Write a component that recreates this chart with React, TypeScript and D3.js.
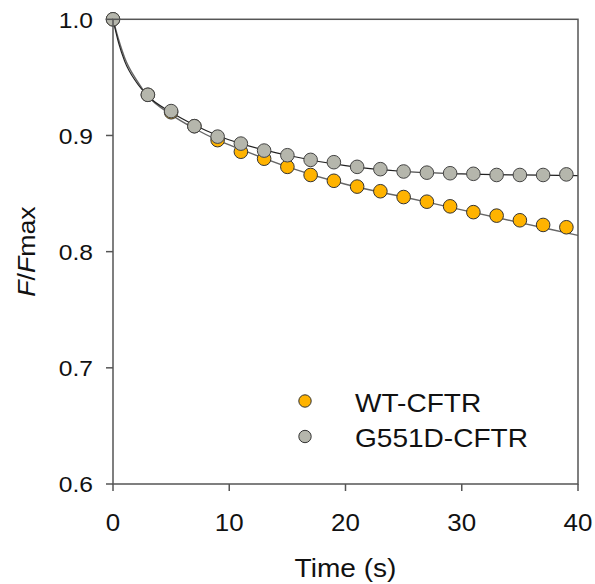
import React from "react";
import * as d3 from "d3";

const times = [0, 3, 5, 7, 9, 11, 13, 15, 17, 19, 21, 23, 25, 27, 29, 31, 33, 35, 37, 39];
const wtValues = [1.0, 0.935, 0.920, 0.908, 0.896, 0.886, 0.880, 0.873, 0.866, 0.861, 0.856, 0.852, 0.847, 0.843, 0.839, 0.834, 0.831, 0.827, 0.823, 0.821];
const g551dValues = [1.0, 0.935, 0.921, 0.908, 0.899, 0.893, 0.887, 0.883, 0.879, 0.877, 0.873, 0.871, 0.869, 0.868, 0.8675, 0.867, 0.866, 0.866, 0.866, 0.8665];

const wtFitT = [0, 0.5, 1, 2, 3, 5, 7, 9, 11, 15, 20, 25, 30, 35, 40];
const wtFitV = [1.0, 0.982, 0.967, 0.948, 0.934, 0.918, 0.906, 0.896, 0.888, 0.873, 0.858, 0.847, 0.836, 0.825, 0.814];
const gFitT = [0, 0.5, 1, 2, 3, 5, 7, 9, 11, 15, 20, 25, 30, 35, 40];
const gFitV = [1.0, 0.979, 0.964, 0.946, 0.934, 0.920, 0.909, 0.900, 0.893, 0.883, 0.874, 0.869, 0.867, 0.866, 0.8655];

const xTicks = [0, 10, 20, 30, 40];
const yTicks = [0.6, 0.7, 0.8, 0.9, 1.0];

const seriesNames = ["WT-CFTR", "G551D-CFTR"];
const seriesColors = ["#FFB300", "#B5B6AC"];

export default function App() {
  const W = 595, H = 584;
  const left = 113, right = 578, top = 19.3, bottom = 484;
  const x = d3.scaleLinear().domain([0, 40]).range([left, right]);
  const y = d3.scaleLinear().domain([0.6, 1.0]).range([bottom, top]);
  const line = d3
    .line<[number, number]>()
    .x((d) => x(d[0]))
    .y((d) => y(d[1]))
    .curve(d3.curveMonotoneX);
  const wtFit = wtFitT.map((t, i) => [t, wtFitV[i]] as [number, number]);
  const gFit = gFitT.map((t, i) => [t, gFitV[i]] as [number, number]);
  const axisColor = "#555";
  const font = "'Liberation Sans', Arial, sans-serif";
  const txt = "#111";

  return (
    <svg width={W} height={H} style={{ position: "absolute", left: 0, top: 0 }} fontFamily={font}>
      <rect width={W} height={H} fill="#fff" />
      {/* fit lines */}
      <path d={line(wtFit) || ""} fill="none" stroke="#666" strokeWidth={1.4} />
      <path d={line(gFit) || ""} fill="none" stroke="#222" strokeWidth={1.2} />
      {/* WT points */}
      {times.map((t, i) => (
        <circle key={"w" + i} cx={x(t)} cy={y(wtValues[i])} r={6.8} fill={seriesColors[0]} stroke="#333" strokeWidth={1} />
      ))}
      {/* G551D points */}
      {times.map((t, i) => (
        <circle key={"g" + i} cx={x(t)} cy={y(g551dValues[i])} r={6.8} fill={seriesColors[1]} stroke="#444" strokeWidth={1} />
      ))}
      {/* frame */}
      <rect x={left} y={top} width={right - left} height={bottom - top} fill="none" stroke={axisColor} strokeWidth={1.5} />
      {/* y ticks */}
      {yTicks.map((v) => (
        <g key={"y" + v}>
          <line x1={left - 7} x2={left} y1={y(v)} y2={y(v)} stroke={axisColor} strokeWidth={1.5} />
          <g transform={`translate(93, ${y(v) + 8.2}) scale(1.12, 1)`}>
            <text textAnchor="end" fontSize={22} fill={txt}>
              {v.toFixed(1)}
            </text>
          </g>
        </g>
      ))}
      {/* x ticks */}
      {xTicks.map((v) => (
        <g key={"x" + v}>
          <line x1={x(v)} x2={x(v)} y1={bottom} y2={bottom + 7} stroke={axisColor} strokeWidth={1.5} />
          <g transform={`translate(${x(v)}, 531) scale(1.08, 1)`}>
            <text textAnchor="middle" fontSize={24} fill={txt}>
              {v}
            </text>
          </g>
        </g>
      ))}
      {/* axis titles */}
      <g transform={`translate(${(left + right) / 2}, 577) scale(1.1, 1)`}>
        <text textAnchor="middle" fontSize={25.5} fill={txt}>
          Time (s)
        </text>
      </g>
      <g transform={`translate(35, ${(top + bottom) / 2}) rotate(-90) scale(1.08, 1)`}>
        <text textAnchor="middle" fontSize={24.7} fill={txt}>
          <tspan fontStyle="italic">F</tspan>
          <tspan>/</tspan>
          <tspan fontStyle="italic">F</tspan>
          <tspan>max</tspan>
        </text>
      </g>
      {/* legend */}
      {seriesNames.map((name, i) => (
        <g key={name}>
          <circle cx={305} cy={401 + i * 35.5} r={6.2} fill={seriesColors[i]} stroke="#333" strokeWidth={1} />
          <g transform={`translate(355, ${411.5 + i * 35.5}) scale(1.1, 1)`}>
            <text fontSize={25.5} fill={txt}>
              {name}
            </text>
          </g>
        </g>
      ))}
    </svg>
  );
}
